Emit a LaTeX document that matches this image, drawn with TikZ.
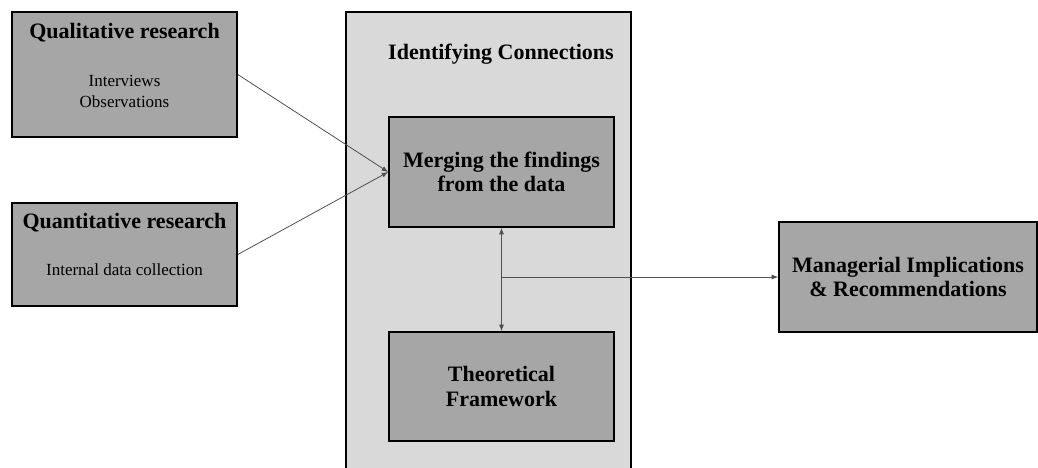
\documentclass[tikz,border=0pt]{standalone}
\usepackage{fontspec}
\setmainfont{Liberation Serif}
\usepackage{tikz}
\usetikzlibrary{arrows.meta}
\usetikzlibrary{calc}

\definecolor{boxgray}{HTML}{A6A6A6}
\definecolor{panelgray}{HTML}{D9D9D9}
\definecolor{linegray}{HTML}{505050}

\begin{document}
\begin{tikzpicture}[x=1pt,y=-1pt,
  stagebox/.style={draw=black,line width=1.6pt,fill=boxgray,minimum width=225pt,inner sep=0pt},
  headtext/.style={font=\bfseries\fontsize{22}{24.5}\selectfont,align=center},
  subtext/.style={font=\fontsize{17}{21}\selectfont,align=center},
  link/.style={draw=linegray,line width=0.8pt,-{Latex[length=6.5pt,width=5pt]}}]
  \useasboundingbox (0,0) rectangle (1038,468);
  % the panel round the middle column
  \draw[line width=1.6pt,fill=panelgray] (346,12) rectangle (631,480);
  \node[headtext] (panel-T) at (501,54) {Identifying Connections};
  % sources on the left
  \node[stagebox,minimum height=125pt] (qual) at (124.5,74.5) {};
  \node[headtext] (qual-T) at (124.5,33) {Qualitative research};
  \node[subtext] (qual-S) at (124.5,91) {Interviews\\Observations};
  \node[stagebox,minimum height=103pt] (quant) at (124.5,254.5) {};
  \node[headtext] (quant-T) at (124.5,223) {Quantitative research};
  \node[subtext] (quant-S) at (124.5,270) {Internal data collection};
  % middle column
  \node[stagebox,minimum height=110pt,headtext] (merge) at (501.5,172) {Merging the findings\\from the data};
  \node[stagebox,minimum height=109pt,headtext] (theory) at (501.5,386.5) {Theoretical\\Framework};
  % outcome
  \node[stagebox,minimum width=258pt,minimum height=110pt,headtext] (mgr) at (908,277) {Managerial Implications\\\& Recommendations};
  \foreach \src in {qual,quant}{%
    \path[link] (\src.east) -- (merge.west);
  }
  \path[link,{Latex[length=6.5pt,width=5pt]}-{Latex[length=6.5pt,width=5pt]}] (merge.south) -- (theory.north);
  \coordinate (junc) at (merge.south |- mgr.west);
  \path[link] (junc) -- (mgr.west);
\end{tikzpicture}
\end{document}
